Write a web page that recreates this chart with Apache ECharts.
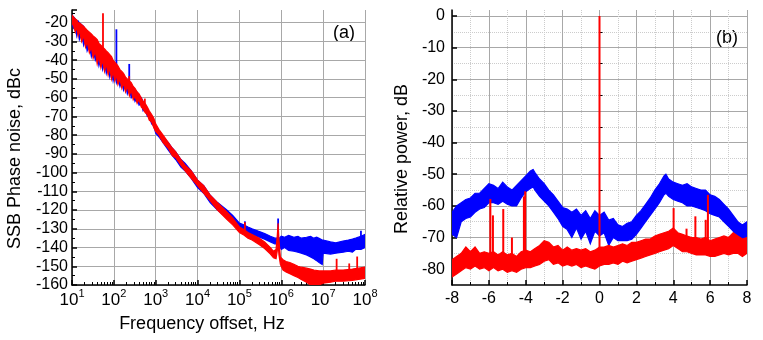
<!DOCTYPE html>
<html>
<head>
<meta charset="utf-8">
<title>SSB phase noise and RF spectrum</title>
<script src="https://cdn.jsdelivr.net/npm/echarts@6/dist/echarts.min.js"></script>
<style>
html, body { margin: 0; padding: 0; background: #fff; }
#main { width: 763px; height: 340px; }
</style>
</head>
<body>
<div id="main"></div>
<script>
// ---------------- data ----------------
// panel (a): [frequency Hz, lower edge dBc, upper edge dBc] of the noisy trace
var blueA = [
    [10, -21, -16], [11, -23, -17], [12, -22, -18], [13, -27, -19], [14, -24, -19],
    [15, -29, -20], [17, -26, -21], [19, -32, -22], [21, -29, -24], [23, -35, -25],
    [26, -32, -26], [29, -38, -27], [32, -34, -29], [36, -40, -30], [40, -37, -31],
    [44, -43, -32], [49, -39, -34], [54, -45, -35], [60, -41, -36], [66, -47, -37],
    [73, -43, -38], [80, -49, -39], [88, -45, -40], [96, -51, -41], [105, -47, -42],
    [115, -52, -43], [125, -49, -44], [140, -54, -46], [155, -51, -47], [170, -56, -48],
    [190, -53, -50], [210, -58, -51], [235, -55, -52], [260, -60, -53], [290, -58, -55],
    [320, -62, -56], [360, -60, -57], [400, -64, -59], [450, -63, -60], [500, -67, -62],
    [560, -66, -64], [630, -70, -66], [700, -70, -68], [800, -74, -70], [900, -75, -72],
    [1000, -79, -75], [1200, -81, -78], [1500, -84, -81], [2000, -88, -84], [2500, -91, -87],
    [3000, -93, -89], [4000, -97, -93], [5000, -99, -95], [7000, -103, -99], [10000, -108, -104],
    [14000, -111, -107], [20000, -116, -112], [30000, -120, -116], [50000, -124, -120],
    [70000, -127, -123], [100000, -130, -127], [130000, -131, -128], [160000, -132, -129],
    [200000, -133, -130], [300000, -134.5, -131.5], [400000, -135.5, -132.5], [550000, -137, -134],
    [700000, -138, -135], [800000, -138, -135], [900000, -139, -135], [1000000, -141, -134],
    [1200000, -140, -134.5], [1500000, -141.5, -133.5], [2000000, -142, -134.5], [2500000, -142.5, -134],
    [3000000, -143, -135], [4000000, -144, -134.5], [5000000, -145, -134], [6000000, -146, -135],
    [7000000, -147, -134.5], [8000000, -148, -135], [9500000, -149, -136], [10000000, -143, -136],
    [15000000, -143.5, -137], [20000000, -143, -137.5], [30000000, -142.5, -136.5], [40000000, -142, -136],
    [50000000, -142.5, -135.5], [60000000, -141, -135], [80000000, -141, -134], [100000000, -140, -133]
];
var redA = [
    [10, -20, -16], [11, -22, -17], [12, -25, -18], [13, -22, -18.5], [14, -27, -20],
    [15, -24, -20], [17, -30, -21], [19, -27, -22], [21, -33, -23], [23, -30, -24],
    [26, -36, -25], [29, -33, -26], [32, -39, -27], [36, -35, -28], [40, -42, -29],
    [44, -38, -31], [49, -44, -32], [54, -40, -33], [60, -46, -34], [66, -42, -35],
    [73, -48, -36], [80, -44, -37], [88, -50, -38], [96, -46, -40], [105, -51, -41],
    [115, -48, -42], [125, -53, -43], [140, -50, -45], [155, -55, -46], [170, -52, -47],
    [190, -57, -49], [210, -54, -50], [235, -59, -51], [260, -56, -52], [290, -61, -54],
    [320, -59, -55], [360, -63, -57], [400, -61, -58], [450, -65, -60], [500, -66, -62],
    [560, -68, -63], [630, -69, -65], [700, -72, -67], [800, -73, -69], [900, -76, -71],
    [1000, -78, -74], [1200, -80, -77], [1500, -84, -80], [2000, -87, -84], [2500, -91, -87],
    [3000, -92, -89], [4000, -96, -93], [5000, -99, -96], [7000, -103, -99], [10000, -107, -104],
    [14000, -111, -107], [20000, -115, -112], [30000, -120, -116], [50000, -125, -121],
    [70000, -128, -124.5], [100000, -132, -129], [130000, -133.5, -130.5], [160000, -135, -132],
    [200000, -136, -133], [300000, -138.5, -135], [400000, -140.5, -137], [550000, -143.5, -140],
    [650000, -145.5, -142], [750000, -146, -141], [800000, -142, -134], [840000, -138, -127],
    [880000, -144, -136], [950000, -149, -145], [1100000, -152, -146.5], [1300000, -153, -147.5],
    [1600000, -154, -148], [2000000, -155, -149], [2500000, -156, -150], [3000000, -157, -150.5],
    [4000000, -158.5, -151], [5000000, -160, -151.5], [6000000, -160, -152], [8000000, -160, -152.5],
    [10000000, -159, -152.5], [15000000, -158.5, -152.5], [20000000, -158, -152], [30000000, -158, -152],
    [50000000, -157.5, -151.5], [70000000, -157, -151], [100000000, -156.5, -150.5]
];
// narrow spurs: [frequency Hz, base dBc, peak dBc]
var blueSpursA = [[115, -44, -23.5], [233, -52, -42], [400, -60, -58.5], [135000, -130, -126],
    [840000, -135, -124.5], [80000000, -135, -131]];
var redSpursA = [[55, -38, -15], [232, -53, -48.5], [550, -63, -60.5], [135000, -133, -126.5],
    [21000000, -153, -146], [42000000, -153, -148.5], [65000000, -152, -144.8]];

// panel (b): [offset, lower edge dB, upper edge dB]
var blueB = [
    [-8, -69, -62], [-7.75, -70, -60], [-7.5, -65, -59], [-7.25, -64, -58], [-7, -63.5, -57.5],
    [-6.75, -62, -56], [-6.5, -61, -56], [-6.25, -60.5, -54.5], [-6, -59, -53], [-5.75, -59, -53.5],
    [-5.5, -59.5, -54.5], [-5.25, -58.5, -52.5], [-5, -59.5, -54], [-4.75, -60, -55], [-4.5, -60, -53.5],
    [-4.25, -57.5, -52], [-4, -55.5, -50.5], [-3.75, -54.5, -49], [-3.6, -54, -48.5], [-3.5, -55, -49.5],
    [-3.25, -57, -51.5], [-3, -58.5, -53], [-2.75, -60, -55], [-2.5, -62, -56.5], [-2.25, -64, -58.5],
    [-2, -66.5, -60.5], [-1.75, -67.5, -61], [-1.5, -70, -62], [-1.25, -67, -61], [-1, -70.5, -63],
    [-0.75, -68, -61.5], [-0.5, -72, -64], [-0.25, -68, -61.5], [0, -69.5, -63], [0.25, -68.5, -62],
    [0.5, -72.5, -64.5], [0.75, -70, -64], [1, -71, -66], [1.25, -71, -66.5], [1.5, -71, -65.5],
    [1.75, -70.5, -65], [2, -69, -63], [2.25, -67, -61.5], [2.5, -65, -59.5], [2.75, -63, -57.5],
    [3, -61, -55], [3.25, -59, -53], [3.5, -56.5, -50.5], [3.6, -56, -50], [3.75, -57, -51.5],
    [4, -58, -52.5], [4.25, -58.5, -53], [4.5, -59, -53.5], [4.75, -60, -53], [5, -60, -54],
    [5.25, -60.5, -54.5], [5.5, -61, -55], [5.75, -61.5, -55], [6, -62.5, -56.5], [6.25, -63, -57],
    [6.5, -63.5, -58], [6.75, -65, -59.5], [7, -66.5, -61], [7.25, -68, -63], [7.5, -70.5, -65],
    [7.75, -71.5, -66], [8, -70, -65]
];
var redB = [
    [-8, -82.5, -77], [-7.75, -81.5, -76], [-7.5, -80.5, -75], [-7.25, -79.5, -73], [-7, -80, -74.5],
    [-6.75, -79, -73], [-6.5, -80, -75], [-6.25, -79.5, -74.5], [-6, -80.5, -75], [-5.75, -79.5, -74.5],
    [-5.5, -80.5, -75.5], [-5.25, -80, -74.5], [-5, -81, -75.5], [-4.75, -80.5, -75], [-4.5, -81, -76],
    [-4.25, -80, -74.5], [-4, -79.5, -74], [-3.75, -79.5, -74.5], [-3.5, -79, -73.5], [-3.25, -78.5, -72.5],
    [-3, -77.5, -71], [-2.75, -77, -71.5], [-2.5, -78.5, -73], [-2.25, -78, -72.5], [-2, -79, -74],
    [-1.75, -78.5, -73], [-1.5, -79, -74], [-1.25, -78.5, -73.5], [-1, -79.5, -74], [-0.75, -79, -73.5],
    [-0.5, -79.5, -74.5], [-0.25, -80, -74], [0, -79, -73], [0.25, -78.5, -73], [0.5, -78.5, -72.5],
    [0.75, -78, -73], [1, -78.5, -72.5], [1.25, -77.5, -72], [1.5, -78, -72.5], [1.75, -77.5, -71.5],
    [2, -77, -71.5], [2.25, -76.5, -71], [2.5, -76, -70.5], [2.75, -75.5, -70.5], [3, -75, -69.5],
    [3.25, -74.5, -69], [3.5, -74, -68.5], [3.75, -73.5, -68], [4, -72.5, -67], [4.25, -73.5, -68.5],
    [4.5, -74.5, -69], [4.75, -74.5, -69.5], [5, -75, -70], [5.25, -75.5, -70], [5.5, -75.5, -70.5],
    [5.75, -75.5, -70], [6, -76, -71], [6.25, -76, -70.5], [6.5, -75.5, -70], [6.75, -75, -69.5],
    [7, -75.5, -70], [7.25, -75, -68.5], [7.5, -75, -69.5], [7.75, -76, -70.5], [8, -75, -70]
];
var redSpursB = [[-5.92, -76, -57.8], [-5.78, -76, -63], [-5.22, -76, -61], [-4.75, -76, -70],
    [-4.1, -75, -57], [-4.03, -75, -55.4], [0, -76, 0], [4.02, -70, -60.7], [4.72, -71, -67.2],
    [5.2, -72, -63.3], [5.76, -72, -64.4], [5.88, -72, -56.5]];

// tick values
var yTicksB = [0, -10, -20, -30, -40, -50, -60, -70, -80];
var yMinorB = [-5, -15, -25, -35, -45, -55, -65, -75];
var minorFreqA = [];
for (var d = 1; d < 8; d++) {
    for (var k = 2; k <= 9; k++) minorFreqA.push(k * Math.pow(10, d));
}

// ---------------- styling ----------------
var fontFam = 'Liberation Sans, Arial, sans-serif';
var tickFont = 16;
var titleFont = 18;
var blue = '#0000ff';
var red = '#ff0000';
var gridColor = '#a8a8a8';
var minorGridColor = '#cccccc';

var axisLine = {show: true, onZero: false, lineStyle: {color: '#000', width: 1.5}};
var majorTick = {show: true, inside: true, length: 5, lineStyle: {color: '#000', width: 1.5}};

function bandSeries(data, color, xi, yi) {
    return {
        type: 'custom',
        xAxisIndex: xi,
        yAxisIndex: yi,
        data: data,
        encode: {x: 0, y: [1, 2]},
        clip: true,
        silent: true,
        renderItem: function (params, api) {
            if (params.dataIndex !== 0) return null;
            var top = [], bot = [];
            for (var i = 0; i < data.length; i++) {
                top.push(api.coord([data[i][0], data[i][2]]));
                bot.push(api.coord([data[i][0], data[i][1]]));
            }
            return {
                type: 'polygon',
                shape: {points: top.concat(bot.reverse())},
                style: {fill: color, stroke: color, lineWidth: 1.2, lineJoin: 'miter'}
            };
        }
    };
}

function spurSeries(data, color, xi, yi, w) {
    return {
        type: 'custom',
        xAxisIndex: xi,
        yAxisIndex: yi,
        data: data,
        encode: {x: 0, y: [1, 2]},
        clip: true,
        silent: true,
        renderItem: function (params, api) {
            var p0 = api.coord([api.value(0), api.value(1)]);
            var p1 = api.coord([api.value(0), api.value(2)]);
            return {
                type: 'line',
                shape: {x1: p0[0], y1: p0[1], x2: p1[0], y2: p1[1]},
                style: {stroke: color, lineWidth: w}
            };
        }
    };
}

var chart = echarts.init(document.getElementById('main'), null, {renderer: 'canvas'});

var option = {
    animation: false,
    backgroundColor: '#fff',
    textStyle: {fontFamily: fontFam},
    grid: [
        {left: 72, right: 398, top: 10, bottom: 55, outerBoundsMode: 'none'},
        {left: 452, right: 16, top: 10, bottom: 55, outerBoundsMode: 'none'}
    ],
    xAxis: [
        {
            gridIndex: 0, type: 'log', logBase: 10, min: 10, max: 1e8, position: 'bottom',
            axisLine: axisLine, axisTick: majorTick,
            splitLine: {show: true, lineStyle: {color: gridColor, width: 1}},
            axisLabel: {
                margin: 3,
                formatter: function (v) {
                    return '{b|10}{s|' + Math.round(Math.log(v) / Math.LN10) + '}';
                },
                rich: {
                    b: {fontSize: 17, fontFamily: fontFam, color: '#000', verticalAlign: 'bottom', lineHeight: 21},
                    s: {fontSize: 11, fontFamily: fontFam, color: '#000', verticalAlign: 'top', lineHeight: 12}
                }
            },
            name: 'Frequency offset, Hz', nameLocation: 'middle', nameGap: 30,
            nameTextStyle: {fontSize: titleFont, fontFamily: fontFam, color: '#000', padding: [0, 33, 0, 0]}
        },
        {
            gridIndex: 0, type: 'log', logBase: 10, min: 10, max: 1e8, position: 'bottom',
            axisLine: {show: false},
            axisTick: {show: true, inside: true, length: 3, customValues: minorFreqA, lineStyle: {color: '#000', width: 1}},
            axisLabel: {show: false},
            splitLine: {show: false}
        },
        {
            gridIndex: 1, type: 'value', min: -8, max: 8, interval: 2, position: 'bottom',
            axisLine: axisLine, axisTick: majorTick,
            minorTick: {show: true, splitNumber: 2, length: 3, lineStyle: {color: '#000', width: 1}},
            splitLine: {show: true, lineStyle: {color: gridColor, width: 1}},
            minorSplitLine: {show: true, lineStyle: {color: minorGridColor, width: 1, type: 'dotted'}},
            axisLabel: {margin: 6, fontSize: tickFont, fontFamily: fontFam, color: '#000'}
        }
    ],
    yAxis: [
        {
            gridIndex: 0, type: 'value', min: -160, max: -13.2, interval: 10,
            axisLine: axisLine, axisTick: majorTick,
            minorTick: {show: true, splitNumber: 2, length: 3, lineStyle: {color: '#000', width: 1}},
            splitLine: {show: true, showMaxLine: false, lineStyle: {color: gridColor, width: 1}},
            axisLabel: {
                margin: 4, fontSize: tickFont, fontFamily: fontFam, color: '#000', showMaxLabel: false,
                formatter: function (v) { return v % 10 === 0 ? String(v) : ''; }
            },
            name: 'SSB Phase noise, dBc', nameLocation: 'middle', nameGap: 48,
            nameTextStyle: {fontSize: titleFont, fontFamily: fontFam, color: '#000', padding: [0, 22, 0, 0]}
        },
        {
            gridIndex: 1, type: 'value', min: -85, max: 1.9, position: 'left',
            axisLine: axisLine,
            axisTick: {show: true, inside: true, length: 5, customValues: yTicksB, lineStyle: {color: '#000', width: 1.5}},
            splitLine: {show: true, showMaxLine: false, lineStyle: {color: gridColor, width: 1}},
            axisLabel: {margin: 7, fontSize: tickFont, fontFamily: fontFam, color: '#000', customValues: yTicksB},
            name: 'Relative power, dB', nameLocation: 'middle', nameGap: 41,
            nameTextStyle: {fontSize: titleFont, fontFamily: fontFam, color: '#000', padding: [0, 23, 0, 0]}
        },
        {
            gridIndex: 1, type: 'value', min: -85, max: 1.9, position: 'left',
            axisLine: {show: false},
            axisTick: {show: true, inside: true, length: 3, customValues: yMinorB, lineStyle: {color: '#000', width: 1}},
            splitLine: {show: true, lineStyle: {color: minorGridColor, width: 1, type: 'dotted'}},
            axisLabel: {show: false}
        }
    ],
    graphic: [
        {type: 'text', left: 333, top: 24, style: {text: '(a)', font: '18px ' + fontFam, fill: '#000'}},
        {type: 'text', left: 716, top: 29, style: {text: '(b)', font: '18px ' + fontFam, fill: '#000'}}
    ],
    series: [
        bandSeries(blueA, blue, 0, 0),
        spurSeries(blueSpursA, blue, 0, 0, 1.8),
        bandSeries(redA, red, 0, 0),
        spurSeries(redSpursA, red, 0, 0, 1.8),
        bandSeries(blueB, blue, 2, 1),
        bandSeries(redB, red, 2, 1),
        spurSeries(redSpursB, red, 2, 1, 2)
    ]
};

chart.setOption(option);
</script>
</body>
</html>
